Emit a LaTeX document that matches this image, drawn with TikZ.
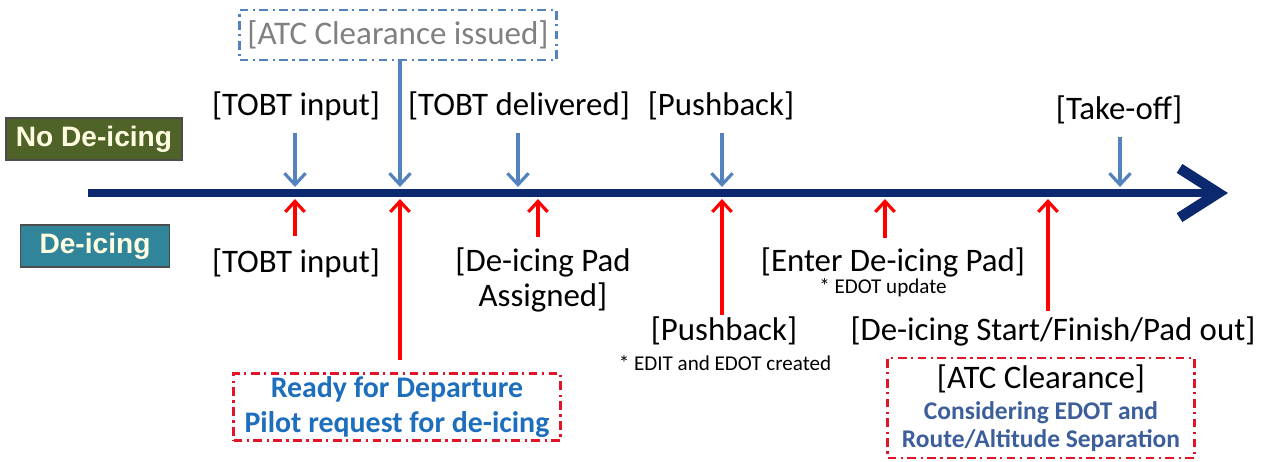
\documentclass[tikz,border=0pt]{standalone}
\usepackage{fontspec}
\setmainfont{Carlito}
\newfontfamily\arialfont{Liberation Sans}
\usetikzlibrary{arrows.meta}
\definecolor{navyline}{RGB}{12,40,110}
\definecolor{steelarrow}{RGB}{84,130,190}
\definecolor{oliveback}{RGB}{79,98,40}
\definecolor{tealback}{RGB}{49,133,155}
\definecolor{readyblue}{RGB}{30,110,190}
\definecolor{slateblue}{RGB}{60,95,155}
\definecolor{issuedgray}{RGB}{128,128,128}
\definecolor{boxred}{RGB}{225,20,40}
\newcommand{\sepline}[1]{\textcolor{slateblue}{\bfseries\fontsize{14.5}{16}\selectfont #1}}
\begin{document}
\begin{tikzpicture}[x=0.02cm,y=-0.02cm,
    evt/.style={font=\fontsize{18.7}{20}\selectfont, inner sep=0pt, align=center},
    note/.style={font=\fontsize{12}{14}\selectfont, inner sep=0pt},
    tag/.style={font=\arialfont\bfseries\fontsize{16}{18}\selectfont, text=white!88!yellow, draw=black!70, line width=0.8pt, minimum height=0.84cm},
    dashbox/.style={line width=1.3pt, dash pattern=on 5pt off 2.5pt on 1.3pt off 2.5pt, inner sep=0pt},
    bluearr/.style={draw=steelarrow, line width=1.8pt, -{Straight Barb[length=6.5pt,width=12pt]}},
    redarr/.style={draw=red, line width=1.8pt, -{Straight Barb[length=6pt,width=11pt]}},
    timeline/.style={draw=navyline, line width=4.6pt, -{Straight Barb[length=22pt,width=28pt,line width=6pt]}}]
\useasboundingbox (0,0) rectangle (1268,461);

% side tags
\node[tag, fill=oliveback, minimum width=3.52cm] (nodeice) at (94,139) {No De-icing};
\node[tag, fill=tealback, minimum width=2.98cm] (deice) at (95,246) {De-icing};

% timeline
\coordinate (tlstart) at (88,193);
\coordinate (tlend) at (1228,193);
\draw[timeline] (tlstart) -- (tlend);

% ticks on the timeline
\coordinate (b1) at (295,187);
\coordinate (b2) at (400,187);
\coordinate (b3) at (518,187);
\coordinate (b4) at (722,187);
\coordinate (b5) at (1120,187);
\coordinate (r1) at (295,199);
\coordinate (r2) at (400,199);
\coordinate (r3) at (538,199);
\coordinate (r4) at (722,199);
\coordinate (r5) at (885,199);
\coordinate (r6) at (1048,199);

% no de-icing events
\node[evt] (tobtin) at (296,106) {[TOBT input]};
\node[evt] (tobtdel) at (519,106) {[TOBT delivered]};
\node[evt] (pushtop) at (721,106) {[Pushback]};
\node[evt] (takeoff) at (1119,110) {[Take-off]};
\node[dashbox, draw=steelarrow, text=issuedgray, font=\fontsize{18.8}{20}\selectfont, minimum width=6.34cm, minimum height=1cm] (atcissued) at (398,35) {[ATC Clearance issued]};

\draw[bluearr, shorten <=7pt] (tobtin.south -| b1) -- (b1);
\draw[bluearr] (atcissued.south -| b2) -- (b2);
\draw[bluearr, shorten <=7pt] (tobtdel.south -| b3) -- (b3);
\draw[bluearr, shorten <=7pt] (pushtop.south -| b4) -- (b4);
\draw[bluearr, shorten <=7pt] (takeoff.south -| b5) -- (b5);

% de-icing events
\node[evt] (tobtinb) at (296,263) {[TOBT input]};
\node[evt] (padasg) at (543,280) {[De-icing Pad\\Assigned]};
\node[evt] (pushbot) at (724,331) {[Pushback]};
\node[note] (editnote) at (725,363) {* EDIT and EDOT created};
\node[evt] (enterpad) at (893,262) {[Enter De-icing Pad]};
\node[note] (edotnote) at (883,288) {* EDOT update};
\node[evt] (startfin) at (1053,331) {[De-icing Start/Finish/Pad out]};
\node[dashbox, draw=boxred, text=readyblue, font=\bfseries\fontsize{17}{19.5}\selectfont, align=center, minimum width=6.54cm, minimum height=1.34cm] (ready) at (397,407) {Ready for Departure\\Pilot request for de-icing};
\node[dashbox, draw=boxred, align=center, minimum width=6.14cm, minimum height=2cm, font=\fontsize{18.7}{20}\selectfont] (atcclear) at (1041,408)
  {[ATC Clearance]\\[-2pt]\sepline{Considering EDOT and}\\[-4pt]\sepline{Route/Altitude Separation}};

\draw[redarr, shorten <=7pt] (tobtinb.north -| r1) -- (r1);
\draw[redarr, shorten <=7pt] (ready.north -| r2) -- (r2);
\draw[redarr, shorten <=6pt] (padasg.north -| r3) -- (r3);
\draw[redarr, shorten <=1pt] (pushbot.north -| r4) -- (r4);
\draw[redarr, shorten <=5pt] (enterpad.north -| r5) -- (r5);
\draw[redarr, shorten <=3pt] (startfin.north -| r6) -- (r6);
\end{tikzpicture}
\end{document}
